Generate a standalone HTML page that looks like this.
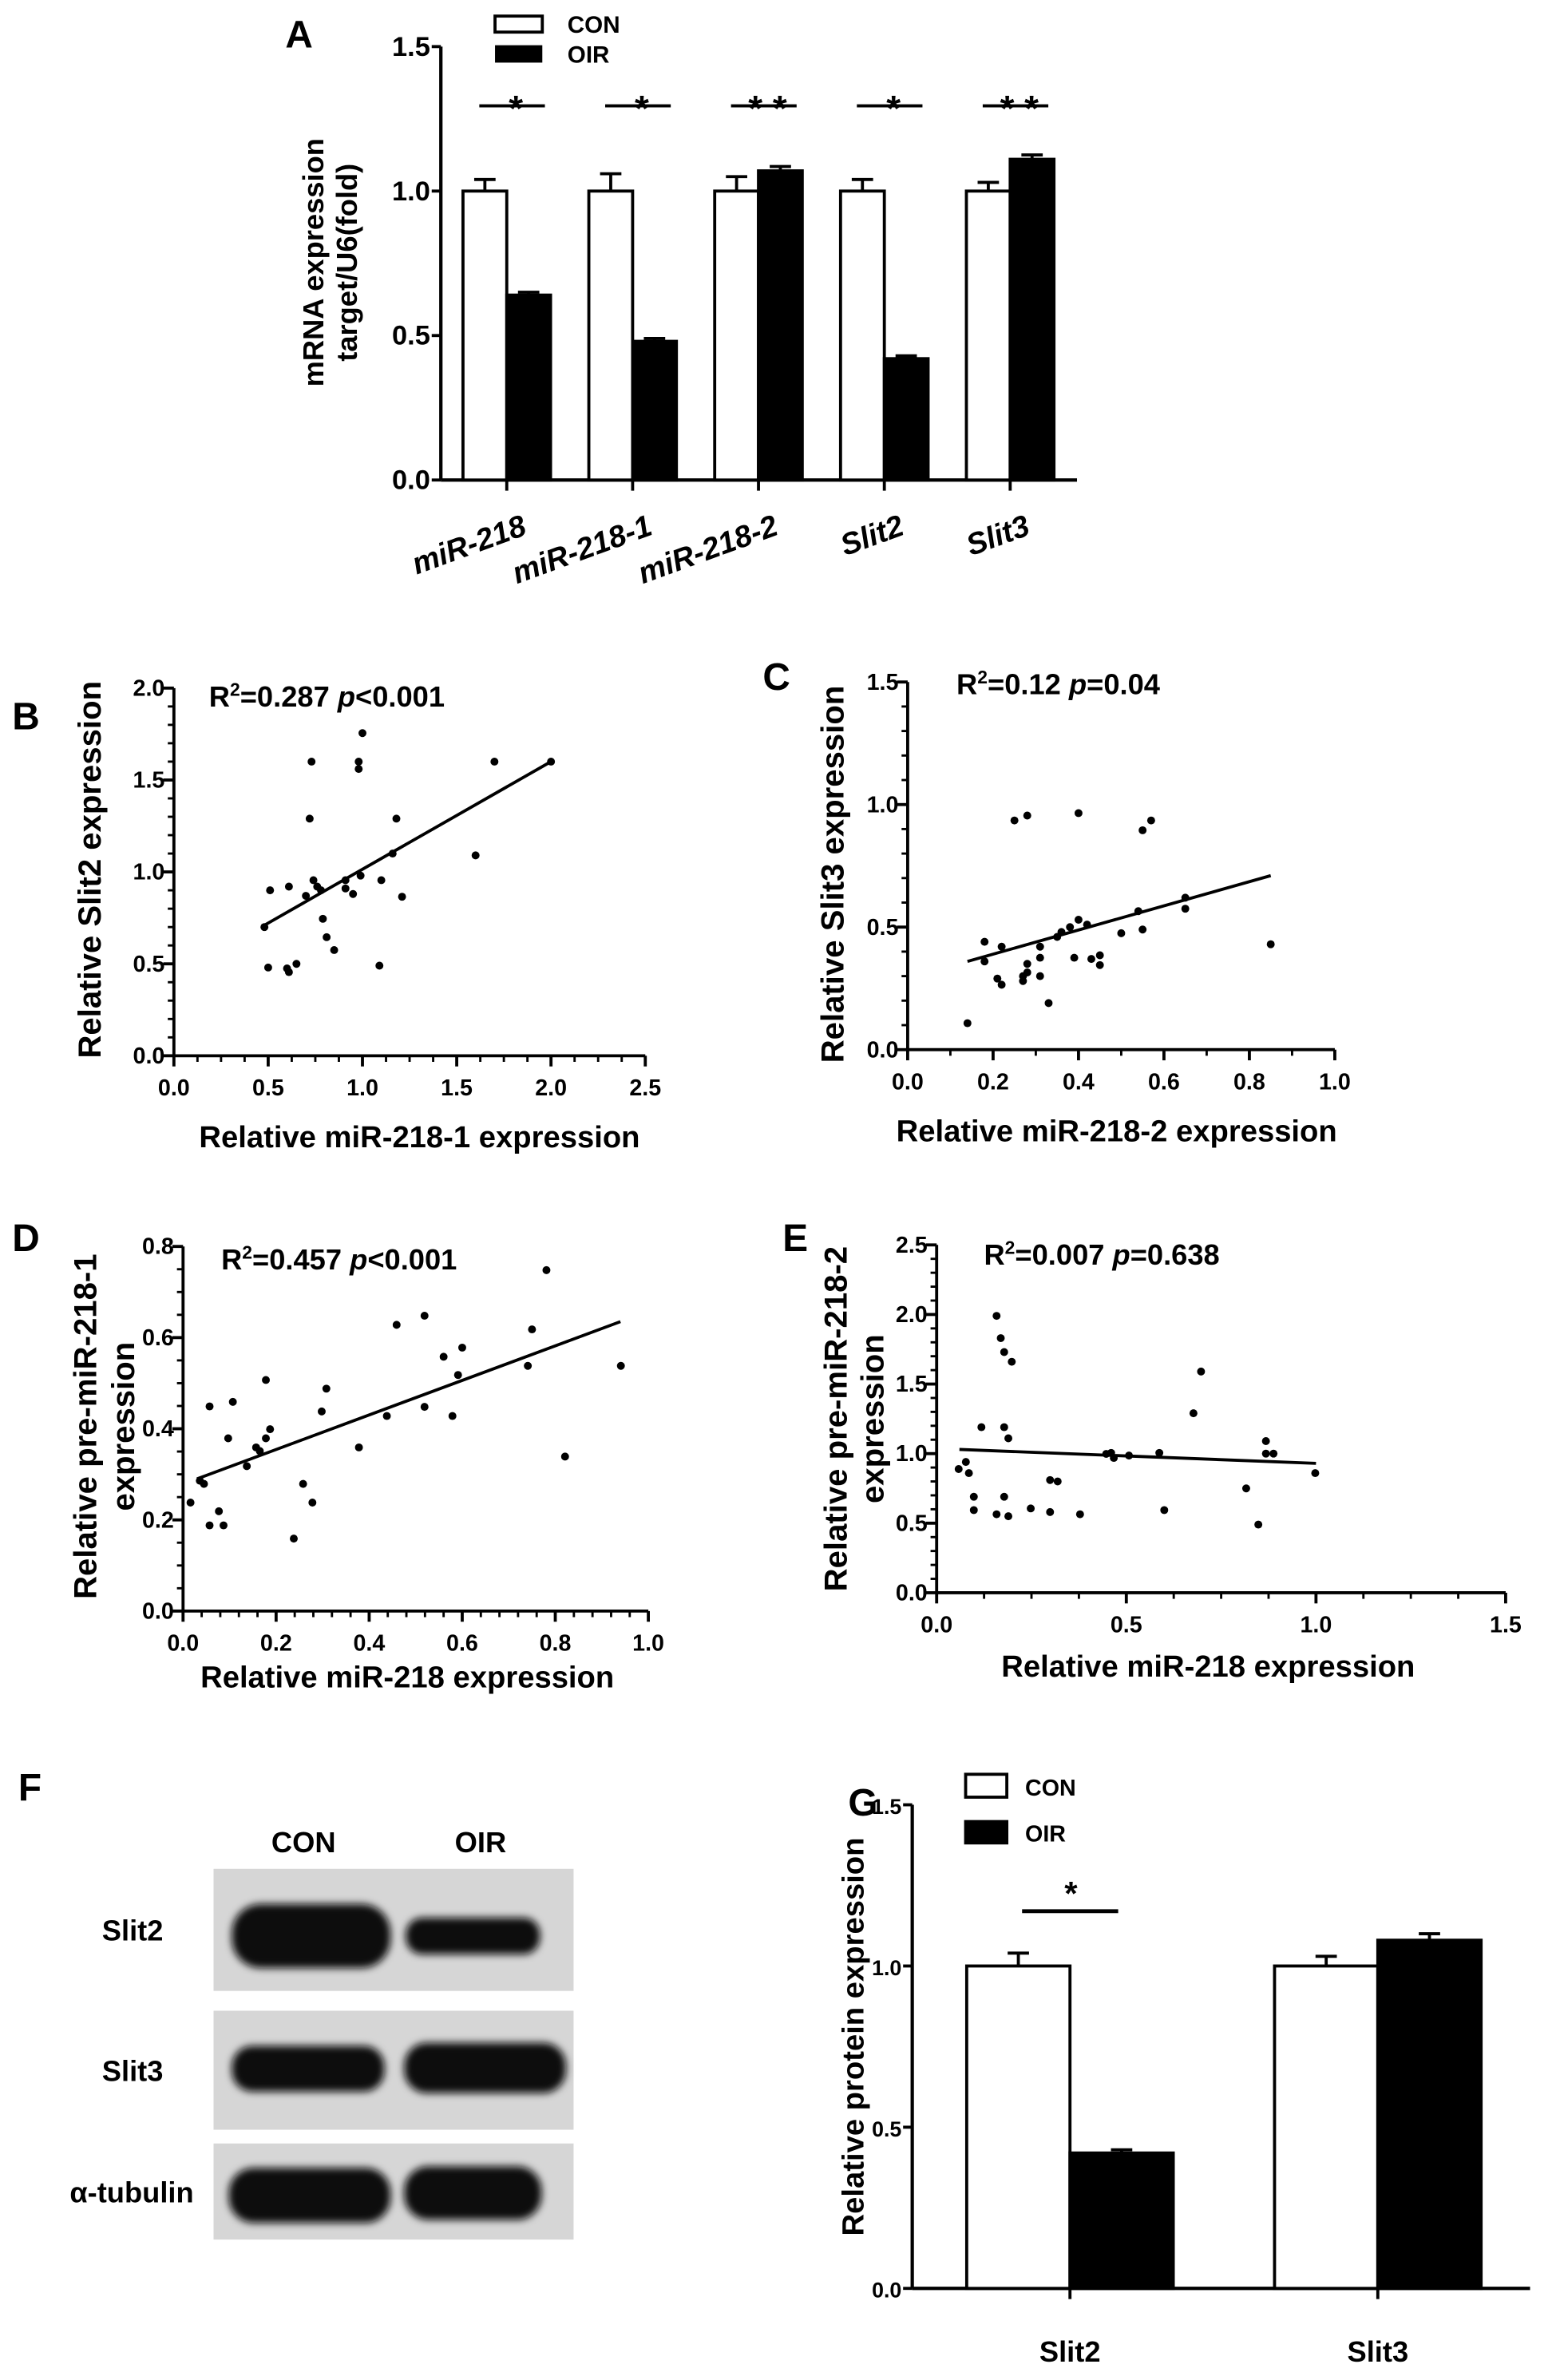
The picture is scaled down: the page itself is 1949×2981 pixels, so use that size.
<!DOCTYPE html>
<html><head><meta charset="utf-8"><style>
html,body{margin:0;padding:0;background:#fff;}
svg{display:block;}
text{font-family:"Liberation Sans",Arial,sans-serif;font-weight:bold;fill:#000;}
</style></head><body>
<svg id="fig" xmlns="http://www.w3.org/2000/svg" width="1949" height="2981" viewBox="0 0 1020 1560">
<defs><filter id="blur" x="-20%" y="-50%" width="140%" height="200%"><feGaussianBlur stdDeviation="2.5"/></filter></defs>
</svg>
<script>
// ---- Panel A data
const aCats=["miR-218","miR-218-1","miR-218-2","Slit2","Slit3"];
const aCon=[1.0,1.0,1.0,1.0,1.0];
const aConErr=[0.04,0.06,0.05,0.04,0.03];
const aOir=[0.64,0.48,1.07,0.42,1.11];
const aOirErr=[0.01,0.01,0.015,0.01,0.015];
const aSig=["*","*","* *","*","* *"];
const aTicks=[0,0.5,1.0,1.5];
// ---- Panel B
const bX=[1.0,0.73,0.98,0.98,1.70,2.0,0.72,1.18,1.60,1.16,0.99,1.10,0.51,0.61,0.74,0.76,0.70,0.91,0.91,0.95,1.21,0.79,0.81,0.85,0.48,0.50,0.60,0.61,0.65,1.09,0.78];
const bY=[1.755,1.60,1.60,1.56,1.60,1.60,1.29,1.29,1.09,1.10,0.98,0.955,0.90,0.92,0.955,0.92,0.87,0.955,0.91,0.88,0.865,0.745,0.645,0.575,0.70,0.48,0.475,0.455,0.50,0.49,0.90];
const bFit=[[0.48,0.71],[2.0,1.6]];
const bXTicks=[0,0.5,1.0,1.5,2.0,2.5];
const bYTicks=[0,0.5,1.0,1.5,2.0];
// ---- Panel C
const cX=[0.14,0.18,0.18,0.22,0.21,0.22,0.25,0.28,0.28,0.28,0.27,0.27,0.31,0.31,0.31,0.33,0.35,0.36,0.38,0.39,0.40,0.40,0.42,0.43,0.45,0.45,0.50,0.54,0.55,0.55,0.57,0.65,0.65,0.85];
const cY=[0.108,0.44,0.36,0.42,0.29,0.265,0.935,0.955,0.35,0.315,0.30,0.28,0.42,0.375,0.30,0.19,0.46,0.48,0.50,0.375,0.965,0.53,0.51,0.37,0.385,0.345,0.475,0.565,0.895,0.49,0.935,0.62,0.575,0.43];
const cFit=[[0.14,0.36],[0.85,0.71]];
const cXTicks=[0,0.2,0.4,0.6,0.8,1.0];
const cYTicks=[0,0.5,1.0,1.5];
// ---- Panel D
const dX=[0.016,0.036,0.045,0.057,0.057,0.077,0.087,0.097,0.107,0.137,0.157,0.165,0.178,0.178,0.187,0.238,0.258,0.278,0.298,0.308,0.378,0.438,0.459,0.519,0.519,0.560,0.579,0.591,0.600,0.741,0.750,0.781,0.821,0.941];
const dY=[0.238,0.286,0.279,0.449,0.188,0.219,0.188,0.379,0.459,0.318,0.359,0.351,0.507,0.379,0.399,0.159,0.279,0.238,0.438,0.488,0.359,0.428,0.628,0.648,0.448,0.558,0.428,0.518,0.578,0.538,0.618,0.748,0.339,0.538];
const dFit=[[0.03,0.29],[0.94,0.635]];
const dXTicks=[0,0.2,0.4,0.6,0.8,1.0];
const dYTicks=[0,0.2,0.4,0.6,0.8];
// ---- Panel E
const eX=[0.058,0.077,0.085,0.098,0.098,0.118,0.158,0.169,0.178,0.198,0.178,0.189,0.178,0.158,0.189,0.248,0.299,0.319,0.299,0.378,0.447,0.46,0.467,0.507,0.587,0.600,0.677,0.697,0.816,0.848,0.868,0.868,0.888,0.998];
const eY=[0.889,0.94,0.86,0.69,0.594,1.19,1.99,1.83,1.73,1.66,1.19,1.11,0.69,0.564,0.55,0.606,0.81,0.80,0.58,0.564,0.998,1.005,0.969,0.986,1.005,0.594,1.29,1.59,0.75,0.49,1.09,1.0,1.0,0.86];
const eFit=[[0.06,1.03],[1.0,0.93]];
const eXTicks=[0,0.5,1.0,1.5];
const eYTicks=[0,0.5,1.0,1.5,2.0,2.5];
// ---- Panel G
const gCats=["Slit2","Slit3"];
const gCon=[1.0,1.0];
const gConErr=[0.04,0.03];
const gOir=[0.42,1.08];
const gOirErr=[0.01,0.02];
const gTicks=[0,0.5,1.0,1.5];

const svg=document.getElementById('fig');
const NS="http://www.w3.org/2000/svg";
function el(tag,attrs,parent,txt){const e=document.createElementNS(NS,tag);for(const k in attrs)e.setAttribute(k,attrs[k]);if(txt!==undefined)e.textContent=txt;(parent||svg).appendChild(e);return e;}
function grp(name){const g=el('g',{});return g;}
function fmt(v,d){return v.toFixed(d);}

function label(t,x,y,size){const g=grp('panel-label-'+t.toLowerCase());el('text',{x:x,y:y,'font-size':size||24},g,t);}

function barChart(o){
  const g=grp(o.name);
  const sy=v=>o.y0-(v/o.ymax)*(o.y0-o.ytop);
  const ax=grp(o.name+'-y-axis');g.appendChild(ax);
  el('line',{x1:o.ax,y1:o.ytop,x2:o.ax,y2:o.y0,stroke:'#000','stroke-width':2.2},ax);
  o.ticks.forEach(t=>{el('line',{x1:o.ax-6,y1:sy(t),x2:o.ax,y2:sy(t),stroke:'#000','stroke-width':2},ax);
    el('text',{x:o.ax-7,y:sy(t)+6,'font-size':o.tfs,'text-anchor':'end'},ax,fmt(t,1));});
  el('line',{x1:o.ax,y1:o.y0,x2:o.xend,y2:o.y0,stroke:'#000','stroke-width':2.2},g);
  o.cats.forEach((c,i)=>{
    const cx=o.ax+o.off+o.bw+i*o.pitch;
    const gb=grp(o.name+'-group-'+c.toLowerCase());g.appendChild(gb);
    const r1=el('rect',{x:cx-o.bw,y:sy(o.con[i]),width:o.bw,height:o.y0-sy(o.con[i]),fill:'#fff',stroke:'#000','stroke-width':2},gb);
    
    
    const ce=sy(o.con[i]+o.conErr[i]);
    el('line',{x1:cx-o.bw/2,y1:sy(o.con[i]),x2:cx-o.bw/2,y2:ce,stroke:'#000','stroke-width':2},gb);
    el('line',{x1:cx-o.bw/2-7,y1:ce,x2:cx-o.bw/2+7,y2:ce,stroke:'#000','stroke-width':2},gb);
    const r2=el('rect',{x:cx,y:sy(o.oir[i]),width:o.bw,height:o.y0-sy(o.oir[i]),fill:'#000',stroke:'#000','stroke-width':2},gb);
    
    
    const oe=sy(o.oir[i]+o.oirErr[i]);
    el('line',{x1:cx+o.bw/2,y1:sy(o.oir[i]),x2:cx+o.bw/2,y2:oe,stroke:'#000','stroke-width':2},gb);
    el('line',{x1:cx+o.bw/2-7,y1:oe,x2:cx+o.bw/2+7,y2:oe,stroke:'#000','stroke-width':2},gb);
    el('line',{x1:cx,y1:o.y0,x2:cx,y2:o.y0+7,stroke:'#000','stroke-width':2},gb);
    o.xlab(gb,c,cx,i);
  });
  return {g,sy};
}

// ----- Panel A
label('A',187,31,25);
const A=barChart({name:'chart-a',cats:aCats,con:aCon,conErr:aConErr,oir:aOir,oirErr:aOirErr,ticks:aTicks,
  ax:289,y0:314.6,ytop:30.5,ymax:1.5,off:14.5,bw:28.7,pitch:82.5,xend:706,tfs:18,
  xlab:(g,c,cx)=>{el('text',{x:cx+14,y:350,'font-size':20,'font-style':'italic','text-anchor':'end',transform:'rotate(-20 '+(cx+14)+' 350)'},g,c);}});
aCats.forEach((c,i)=>{const cx=289+14.5+28.7+i*82.5;const y=A.sy(1.295);
  const s=grp('significance-'+c.toLowerCase());
  el('line',{x1:cx-18,y1:y,x2:cx+25,y2:y,stroke:'#000','stroke-width':2},s);
  el('text',{x:cx+6,y:y+10,'font-size':24,'text-anchor':'middle'},s,aSig[i]);});
{const g=grp('legend-a');
 el('rect',{x:324.5,y:10.5,width:31,height:10.5,fill:'#fff',stroke:'#000','stroke-width':2},g);
 el('rect',{x:324.5,y:29.6,width:31,height:11.4,fill:'#000'},g);
 el('text',{x:372,y:21.5,'font-size':15.5,'font-weight':'normal'},g,'CON');
 el('text',{x:372,y:41,'font-size':15.5,'font-weight':'normal'},g,'OIR');
 const t=grp('y-axis-title-a');
 el('text',{x:0,y:0,'font-size':19,'text-anchor':'middle',transform:'translate(212,172) rotate(-90)'},t,'mRNA expression');
 el('text',{x:0,y:0,'font-size':19,'text-anchor':'middle',transform:'translate(234,172) rotate(-90)'},t,'target/U6(fold)');}

function scatter(o){
  const g=grp(o.name);
  const sx=v=>o.ax+(v-o.xTicks[0])/(o.xTicks[o.xTicks.length-1]-o.xTicks[0])*(o.xend-o.ax);
  const sy=v=>o.y0-(v-o.yTicks[0])/(o.yTicks[o.yTicks.length-1]-o.yTicks[0])*(o.y0-o.ytop);
  const ax=grp(o.name+'-axes');g.appendChild(ax);
  el('line',{x1:o.ax,y1:o.ytop,x2:o.ax,y2:o.y0,stroke:'#000','stroke-width':2},ax);
  el('line',{x1:o.ax,y1:o.y0,x2:o.xend,y2:o.y0,stroke:'#000','stroke-width':2},ax);
  for(let k=0;k<o.yTicks.length-1;k++){const a=o.yTicks[k],b=o.yTicks[k+1];
    for(let m=1;m<o.yMinor;m++){const v=a+(b-a)*m/o.yMinor;el('line',{x1:o.ax-4,y1:sy(v),x2:o.ax,y2:sy(v),stroke:'#000','stroke-width':1.5},ax);}}
  for(let k=0;k<o.xTicks.length-1;k++){const a=o.xTicks[k],b=o.xTicks[k+1];
    for(let m=1;m<o.xMinor;m++){const v=a+(b-a)*m/o.xMinor;el('line',{x1:sx(v),y1:o.y0,x2:sx(v),y2:o.y0+4,stroke:'#000','stroke-width':1.5},ax);}}
  o.yTicks.forEach(t=>{el('line',{x1:o.ax-7,y1:sy(t),x2:o.ax,y2:sy(t),stroke:'#000','stroke-width':2},ax);
    el('text',{x:o.ax-6,y:sy(t)+5,'font-size':15,'text-anchor':'end'},ax,fmt(t,1));});
  o.xTicks.forEach(t=>{el('line',{x1:sx(t),y1:o.y0,x2:sx(t),y2:o.y0+7,stroke:'#000','stroke-width':2},ax);
    el('text',{x:sx(t),y:o.y0+26,'font-size':15,'text-anchor':'middle'},ax,fmt(t,1));});
  const pts=grp(o.name+'-points');g.appendChild(pts);
  o.xs.forEach((x,i)=>{const c=el('circle',{cx:sx(x),cy:sy(o.ys[i]),r:2.6,fill:'#000'},pts);
    
    });
  const fl=el('line',{x1:sx(o.fit[0][0]),y1:sy(o.fit[0][1]),x2:sx(o.fit[1][0]),y2:sy(o.fit[1][1]),stroke:'#000','stroke-width':2},g);
  
  
  const an=grp(o.name+'-annotation');g.appendChild(an);
  const t=el('text',{x:o.annX,y:o.annY,'font-size':19},an);
  el('tspan',{},t,'R');el('tspan',{'font-size':12,dy:-7},t,'2');el('tspan',{dy:7},t,'='+o.r2+' ');
  el('tspan',{'font-style':'italic'},t,'p');el('tspan',{},t,o.p);
  const xt=grp(o.name+'-x-axis-title');g.appendChild(xt);
  el('text',{x:o.xtX,y:o.xtY,'font-size':20,'text-anchor':'middle'},xt,o.xTitle);
  const yt=grp(o.name+'-y-axis-title');g.appendChild(yt);
  o.yTitle.forEach((s,i)=>el('text',{x:0,y:0,'font-size':21,'text-anchor':'middle',transform:'translate('+o.ytX[i]+','+o.ytY+') rotate(-90)'},yt,s));
}
label('B',8,478,25);
scatter({name:'chart-b',xs:bX,ys:bY,fit:bFit,xTicks:bXTicks,yTicks:bYTicks,xMinor:4,yMinor:5,ax:114,xend:423,y0:692,ytop:451,
  annX:137,annY:463,r2:'0.287',p:'<0.001',xTitle:'Relative miR-218-1 expression',xtX:275,xtY:752,yTitle:['Relative Slit2 expression'],ytX:[66],ytY:570});
label('C',500,452,25);
scatter({name:'chart-c',xs:cX,ys:cY,fit:cFit,xTicks:cXTicks,yTicks:cYTicks,xMinor:2,yMinor:5,ax:595,xend:875,y0:688,ytop:447,
  annX:627,annY:455,r2:'0.12',p:'=0.04',xTitle:'Relative miR-218-2 expression',xtX:732,xtY:748,yTitle:['Relative Slit3 expression'],ytX:[553],ytY:573});
label('D',8,820,25);
scatter({name:'chart-d',xs:dX,ys:dY,fit:dFit,xTicks:dXTicks,yTicks:dYTicks,xMinor:5,yMinor:4,ax:120,xend:425,y0:1056,ytop:817,
  annX:145,annY:832,r2:'0.457',p:'<0.001',xTitle:'Relative miR-218 expression',xtX:267,xtY:1106,yTitle:['Relative pre-miR-218-1','expression'],ytX:[63,88],ytY:935});
label('E',513,820,25);
scatter({name:'chart-e',xs:eX,ys:eY,fit:eFit,xTicks:eXTicks,yTicks:eYTicks,xMinor:4,yMinor:5,ax:614,xend:987,y0:1044,ytop:816,
  annX:645,annY:829,r2:'0.007',p:'=0.638',xTitle:'Relative miR-218 expression',xtX:792,xtY:1099,yTitle:['Relative pre-miR-218-2','expression'],ytX:[555,579],ytY:930});

// ----- Panel F (western blot)
label('F',12,1180,25);
{const g=grp('western-blot');
 el('text',{x:199,y:1214,'font-size':19,'text-anchor':'middle'},g,'CON');
 el('text',{x:315,y:1214,'font-size':19,'text-anchor':'middle'},g,'OIR');
 const rows=[['Slit2',1225,1305,[[152,1248,104,42],[266,1257,88,24]],107],['Slit3',1318,1396,[[152,1341,100,30],[265,1339,106,33]],107],['α-tubulin',1405,1468,[[150,1421,106,36],[265,1420,90,35]],127]];
 rows.forEach(r=>{const rg=grp('blot-row-'+r[0]);g.appendChild(rg);
   el('rect',{x:140,y:r[1],width:236,height:r[2]-r[1],fill:'#d6d6d6'},rg);
   r[3].forEach(b=>el('rect',{x:b[0],y:b[1],width:b[2],height:b[3],rx:b[3]/2.2,ry:b[3]/2.2,fill:'#0c0c0c',filter:'url(#blur)'},rg));
   el('text',{x:r[4],y:(r[1]+r[2])/2+7,'font-size':19,'text-anchor':'end'},rg,r[0]);});}

// ----- Panel G
label('G',556,1190,25);
const G=barChart({name:'chart-g',cats:gCats,con:gCon,conErr:gConErr,oir:gOir,oirErr:gOirErr,ticks:gTicks,
  ax:598,y0:1500,ytop:1183,ymax:1.5,off:35.7,bw:67.7,pitch:201.8,xend:1003,tfs:14,
  xlab:(g,c,cx)=>{el('text',{x:cx,y:1548,'font-size':19,'text-anchor':'middle'},g,c);}});
{const s=grp('significance-g');const y=G.sy(1.17);
 el('line',{x1:670,y1:y,x2:733,y2:y,stroke:'#000','stroke-width':2.5},s);
 el('text',{x:702,y:y-4,'font-size':22,'text-anchor':'middle'},s,'*');
 const l=grp('legend-g');
 el('rect',{x:633,y:1163,width:27,height:15,fill:'#fff',stroke:'#000','stroke-width':2},l);
 el('rect',{x:632,y:1193,width:29,height:16,fill:'#000'},l);
 el('text',{x:672,y:1177,'font-size':15},l,'CON');
 el('text',{x:672,y:1207,'font-size':15},l,'OIR');
 const t=grp('y-axis-title-g');
 el('text',{x:0,y:0,'font-size':20,'text-anchor':'middle',transform:'translate(566,1335) rotate(-90)'},t,'Relative protein expression');}
</script>
</body></html>
